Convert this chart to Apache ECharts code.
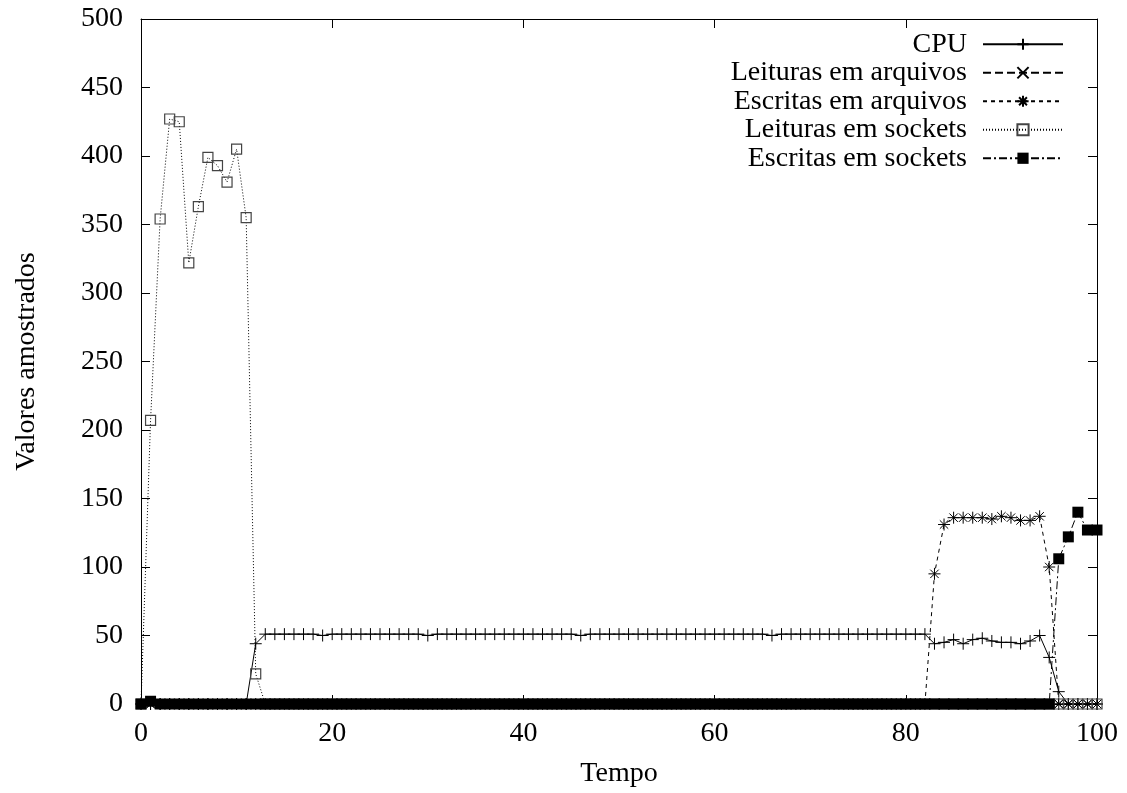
<!DOCTYPE html>
<html>
<head>
<meta charset="utf-8">
<script src="https://cdn.jsdelivr.net/npm/echarts@6/dist/echarts.min.js"></script>
<style>
html,body{margin:0;padding:0;background:#fff;}
#chart{width:1127px;height:793px;}
</style>
</head>
<body>
<div id="chart"></div>
<script>
// Time steps (x values)
var tempo = [0,1,2,3,4,5,6,7,8,9,10,11,12,13,14,15,16,17,18,19,20,21,22,23,24,25,26,27,28,29,30,31,32,33,34,35,36,37,38,39,40,41,42,43,44,45,46,47,48,49,50,51,52,53,54,55,56,57,58,59,60,61,62,63,64,65,66,67,68,69,70,71,72,73,74,75,76,77,78,79,80,81,82,83,84,85,86,87,88,89,90,91,92,93,94,95,96,97,98,99,100];

var cpu = [0,0,0,0,0,0,0,0,0,0,0,0,44,51,51,51,51,51,51,50,51,51,51,51,51,51,51,51,51,51,50,51,51,51,51,51,51,51,51,51,51,51,51,51,51,51,50,51,51,51,51,51,51,51,51,51,51,51,51,51,51,51,51,51,51,51,50,51,51,51,51,51,51,51,51,51,51,51,51,51,51,51,51,44,45,47,44,47,48,46,45,45,44,46,50,34,9,0,0,0,0];

var leiturasArquivos = [0,0,0,0,0,0,0,0,0,0,0,0,0,0,0,0,0,0,0,0,0,0,0,0,0,0,0,0,0,0,0,0,0,0,0,0,0,0,0,0,0,0,0,0,0,0,0,0,0,0,0,0,0,0,0,0,0,0,0,0,0,0,0,0,0,0,0,0,0,0,0,0,0,0,0,0,0,0,0,0,0,0,0,0,0,0,0,0,0,0,0,0,0,0,0,0,0,0,0,0,0];

var escritasArquivos = [0,0,0,0,0,0,0,0,0,0,0,0,0,0,0,0,0,0,0,0,0,0,0,0,0,0,0,0,0,0,0,0,0,0,0,0,0,0,0,0,0,0,0,0,0,0,0,0,0,0,0,0,0,0,0,0,0,0,0,0,0,0,0,0,0,0,0,0,0,0,0,0,0,0,0,0,0,0,0,0,0,0,0,95,131,136,136,136,136,135,137,136,134,134,137,100,0,0,0,0,0];

var leiturasSockets = [0,207,354,427,425,322,363,399,393,381,405,355,22,0,0,0,0,0,0,0,0,0,0,0,0,0,0,0,0,0,0,0,0,0,0,0,0,0,0,0,0,0,0,0,0,0,0,0,0,0,0,0,0,0,0,0,0,0,0,0,0,0,0,0,0,0,0,0,0,0,0,0,0,0,0,0,0,0,0,0,0,0,0,0,0,0,0,0,0,0,0,0,0,0,0,0,0,0,0,0,0];

var escritasSockets = [0,2,0,0,0,0,0,0,0,0,0,0,0,0,0,0,0,0,0,0,0,0,0,0,0,0,0,0,0,0,0,0,0,0,0,0,0,0,0,0,0,0,0,0,0,0,0,0,0,0,0,0,0,0,0,0,0,0,0,0,0,0,0,0,0,0,0,0,0,0,0,0,0,0,0,0,0,0,0,0,0,0,0,0,0,0,0,0,0,0,0,0,0,0,0,0,106,122,140,127,127];

var seriesNames = ['CPU','Leituras em arquivos','Escritas em arquivos','Leituras em sockets','Escritas em sockets'];
var xTicks = {min:0, max:100, interval:20};
var yTicks = {min:0, max:500, interval:50};

function pairs(arr){ return tempo.map(function(t,i){ return [t, arr[i]]; }); }

var FONT = 'Liberation Serif';
var FS = 28;
var chart = echarts.init(document.getElementById('chart'), null, {renderer:'canvas'});

var axisCommon = {
  type:'value',
  axisLine:{show:true, onZero:false, lineStyle:{color:'#000', width:1}},
  axisTick:{show:true, inside:true, length:9, lineStyle:{color:'#000', width:1}},
  splitLine:{show:false},
  axisLabel:{color:'#000', fontFamily:FONT, fontSize:FS}
};

function ax(extra){ return Object.assign({}, JSON.parse(JSON.stringify(axisCommon)), extra); }

var plusPath = 'path://M0 5L10 5M5 0L5 10';
var xPath = 'path://M0 0L10 10M0 10L10 0';
var starPath = 'path://M0 5L10 5M5 0L5 10M1.5 1.5L8.5 8.5M1.5 8.5L8.5 1.5';
var boxPath = 'path://M0 0L10 0L10 10L0 10Z';

var option = {
  animation:false,
  backgroundColor:'#fff',
  grid:{left:141, right:30, top:19, bottom:88, containLabel:false},
  legend:{
    orient:'vertical', right:58, top:25, align:'right',
    itemWidth:80, itemHeight:14, itemGap:0,
    textStyle:{fontFamily:FONT, fontSize:FS, color:'#000', lineHeight:28.5, padding:[0,11,0,0]},
    data:seriesNames
  },
  xAxis:[
    ax({position:'bottom', min:xTicks.min, max:xTicks.max, interval:xTicks.interval,
        name:'Tempo', nameLocation:'middle', nameGap:56,
        nameTextStyle:{fontFamily:FONT, fontSize:FS, color:'#000'},
        axisLabel:{color:'#000', fontFamily:FONT, fontSize:FS, margin:16}}),
    ax({position:'top', min:xTicks.min, max:xTicks.max, interval:xTicks.interval,
        axisLabel:{show:false}})
  ],
  yAxis:[
    ax({position:'left', min:yTicks.min, max:yTicks.max, interval:yTicks.interval,
        name:'Valores amostrados', nameLocation:'middle', nameGap:100, nameRotate:90,
        nameTextStyle:{fontFamily:FONT, fontSize:FS, color:'#000'},
        axisLabel:{color:'#000', fontFamily:FONT, fontSize:FS, margin:18}}),
    ax({position:'right', min:yTicks.min, max:yTicks.max, interval:yTicks.interval,
        axisLabel:{show:false}})
  ],
  series:[
    {name:seriesNames[0], type:'line', data:pairs(cpu), symbol:plusPath, symbolSize:12, showAllSymbol:true,
     lineStyle:{color:'#000', width:1, type:'solid'},
     itemStyle:{color:'#000', borderColor:'#000', borderWidth:1}},
    {name:seriesNames[1], type:'line', data:pairs(leiturasArquivos), symbol:xPath, symbolSize:9, showAllSymbol:true,
     lineStyle:{color:'#000', width:1, type:[8,4]},
     itemStyle:{color:'#000', borderColor:'#000', borderWidth:1}},
    {name:seriesNames[2], type:'line', data:pairs(escritasArquivos), symbol:starPath, symbolSize:12, showAllSymbol:true,
     lineStyle:{color:'#000', width:1, type:[4,4]},
     itemStyle:{color:'#000', borderColor:'#000', borderWidth:1}},
    {name:seriesNames[3], type:'line', data:pairs(leiturasSockets), symbol:boxPath, symbolSize:10, showAllSymbol:true,
     lineStyle:{color:'#000', width:1, type:[1,2]},
     itemStyle:{color:'rgba(255,255,255,0)', borderColor:'#444', borderWidth:1.2}},
    {name:seriesNames[4], type:'line', data:pairs(escritasSockets), symbol:'rect', symbolSize:11, showAllSymbol:true,
     lineStyle:{color:'#000', width:1, type:[8,3,2,3]},
     itemStyle:{color:'#000'}}
  ]
};
chart.setOption(option);
</script>
</body>
</html>
